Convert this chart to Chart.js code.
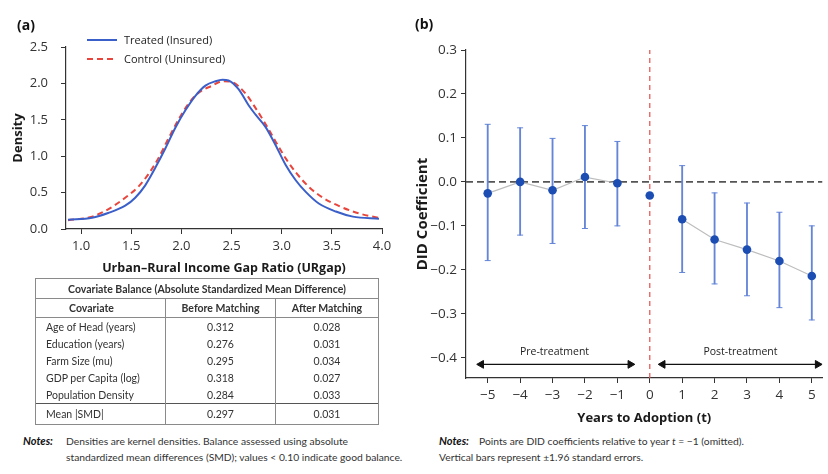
<!DOCTYPE html>
<html>
<head>
<meta charset="utf-8">
<script src="https://cdn.jsdelivr.net/npm/chart.js@4.4.1/dist/chart.umd.min.js"></script>
<style>
html,body{margin:0;padding:0;background:#fff;}
#wrap{position:relative;width:828px;height:474px;overflow:hidden;background:#fff;font-family:'Open Sans',sans-serif;color:#222;}
.abs{position:absolute;white-space:nowrap;}
.plabel{font-weight:bold;font-size:14px;line-height:16px;color:#111;}
.legtxt{font-size:11px;line-height:16px;color:#222;}
#cA{position:absolute;left:0;top:0;}
#cB{position:absolute;left:414px;top:0;}
#tbl{position:absolute;left:35px;top:278px;width:343px;border-collapse:collapse;font-family:Lato,sans-serif;font-size:10.5px;color:#333;table-layout:fixed;}
#tbl td{padding:0;border:1px solid #8a8a8a;text-align:center;vertical-align:middle;line-height:12px;}
#tbl tr.title td{height:19px;font-weight:bold;color:#333;}
#tbl tr.head td{height:18px;font-weight:bold;color:#333;}
#tbl tr.row td{height:17px;border-top:none;border-bottom:none;}
#tbl tr.row td.cov{text-align:left;padding-left:10px;}
#tbl tr.mean td{height:20px;border-top:1.5px solid #555;}
#tbl tr.mean td.cov{text-align:left;padding-left:10px;}
.note{font-family:Lato,sans-serif;font-size:10.3px;line-height:14px;color:#333;}
.note b{font-style:italic;font-size:11px;color:#111;}
</style>
</head>
<body>
<div id="wrap">
  <canvas id="cA" width="400" height="282"></canvas>
  <canvas id="cB" width="414" height="432"></canvas>

  <div class="abs plabel" style="left:17px;top:17px;">(a)</div>
  <div class="abs plabel" style="left:415px;top:16px;">(b)</div>

  <svg class="abs" style="left:86px;top:34px;" width="32" height="32">
    <line x1="1" y1="6" x2="31" y2="6" stroke="#3b5fc9" stroke-width="2"/>
    <line x1="1" y1="25" x2="31" y2="25" stroke="#e8453c" stroke-width="2" stroke-dasharray="6 4"/>
  </svg>
  <div class="abs legtxt" id="legT" style="left:124px;top:32px;"></div>
  <div class="abs legtxt" id="legC" style="left:124px;top:51px;"></div>

  <table id="tbl"></table>

  <div class="abs note" style="left:23px;top:434px;"><b>Notes:</b></div>
  <div class="abs note" style="left:66px;top:434px;">Densities are kernel densities. Balance assessed using absolute</div>
  <div class="abs note" style="left:66px;top:450px;">standardized mean differences (SMD); values &lt; 0.10 indicate good balance.</div>

  <div class="abs note" style="left:439px;top:434px;"><b>Notes:</b></div>
  <div class="abs note" style="left:479px;top:434px;">Points are DID coefficients relative to year <i>t</i> = −1 (omitted).</div>
  <div class="abs note" style="left:439px;top:450px;">Vertical bars represent ±1.96 standard errors.</div>
</div>

<script>
// ================= DATA =================
// Panel (a): kernel densities of URgap
const seriesNames = ['Treated (Insured)', 'Control (Uninsured)'];
const treatedX = [0.87,1.11,1.27,1.44,1.54,1.64,1.74,1.84,1.94,2.04,2.14,2.24,2.34,2.41,2.47,2.57,2.67,2.74,2.84,2.94,3.04,3.14,3.24,3.37,3.54,3.71,3.97];
const treatedDensity = [0.127,0.155,0.22,0.32,0.43,0.60,0.84,1.105,1.39,1.63,1.83,1.97,2.03,2.05,2.04,1.92,1.70,1.57,1.40,1.15,0.88,0.67,0.51,0.35,0.24,0.17,0.14];
const controlX = [0.87,1.11,1.27,1.44,1.57,1.67,1.77,1.87,1.97,2.07,2.17,2.31,2.41,2.50,2.64,2.74,2.84,2.94,3.04,3.14,3.27,3.41,3.58,3.78,3.98];
const controlDensity = [0.12,0.17,0.27,0.43,0.58,0.75,0.97,1.24,1.50,1.72,1.87,1.97,2.03,2.02,1.86,1.66,1.44,1.20,0.97,0.78,0.58,0.43,0.31,0.21,0.15];
const densityXTicks = [1.0,1.5,2.0,2.5,3.0,3.5,4.0];
const densityYTicks = [0.0,0.5,1.0,1.5,2.0,2.5];
const densityXRange = [0.85, 4.0];
const densityYRange = [0.0, 2.5];

// Covariate balance table
const tableTitle = 'Covariate Balance (Absolute Standardized Mean Difference)';
const tableHeaders = ['Covariate','Before Matching','After Matching'];
const covariates = ['Age of Head (years)','Education (years)','Farm Size (mu)','GDP per Capita (log)','Population Density'];
const smdBefore = ['0.312','0.276','0.295','0.318','0.284'];
const smdAfter = ['0.028','0.031','0.034','0.027','0.033'];
const meanRow = ['Mean |SMD|','0.297','0.031'];

// Panel (b): event study
const eventYears = [-5,-4,-3,-2,-1,0,1,2,3,4,5];
const didCoef = [-0.026,0.000,-0.019,0.011,-0.003,-0.031,-0.085,-0.131,-0.154,-0.180,-0.214];
const ciLower = [-0.179,-0.121,-0.140,-0.106,-0.100,null,-0.206,-0.232,-0.259,-0.286,-0.314];
const ciUpper = [0.131,0.123,0.099,0.128,0.092,null,0.037,-0.025,-0.048,-0.069,-0.100];
const adoptionYear = 0;
const eventXTicks = [-5,-4,-3,-2,-1,0,1,2,3,4,5];
const eventYTicks = [0.3,0.2,0.1,0.0,-0.1,-0.2,-0.3,-0.4];
const eventXRange = [-5.67, 5.33];
const eventYRange = [-0.446, 0.3];
const periodLabels = ['Pre-treatment','Post-treatment'];
const periodArrowX = [[-5.2,-0.6],[0.4,5.18]];
const periodArrowY = -0.415;
const periodLabelX = [-2.94, 2.8];
const periodLabelY = -0.387;

// ================= HELPERS =================
const FONT = "'Open Sans', sans-serif";
const fmtMinus = v => (v < 0 ? '\u2212' : '') + Math.abs(v);
const fmt1 = v => { const r = Math.round(v*10)/10; return (r < 0 ? '\u2212' : '') + Math.abs(r).toFixed(1); };
const fixTicks = arr => s => { s.ticks = arr.map(v => ({value: v})); };

document.getElementById('legT').textContent = seriesNames[0];
document.getElementById('legC').textContent = seriesNames[1];

// Table
(function(){
  const t = document.getElementById('tbl');
  let h = '<colgroup><col style="width:130px"><col style="width:110px"><col style="width:103px"></colgroup>';
  h += '<tr class="title"><td colspan="3">' + tableTitle + '</td></tr>';
  h += '<tr class="head"><td style="padding-right:18px">' + tableHeaders[0] + '</td><td>' + tableHeaders[1] + '</td><td>' + tableHeaders[2] + '</td></tr>';
  covariates.forEach((c,i) => {
    h += '<tr class="row"><td class="cov">' + c + '</td><td>' + smdBefore[i] + '</td><td>' + smdAfter[i] + '</td></tr>';
  });
  h += '<tr class="mean"><td class="cov">' + meanRow[0] + '</td><td>' + meanRow[1] + '</td><td>' + meanRow[2] + '</td></tr>';
  t.innerHTML = h;
})();

const axisCommon = (tl) => ({
  border: {display: true, color: '#333', width: 1.2},
  grid: {display: true, drawOnChartArea: false, drawTicks: true, tickLength: tl, color: '#333', lineWidth: 1, offset: false}
});

// ================= CHART A =================
new Chart(document.getElementById('cA'), {
  type: 'line',
  data: {
    datasets: [
      {label: seriesNames[0], data: treatedX.map((x,i) => ({x, y: treatedDensity[i]})),
       borderColor: '#3b5fc9', borderWidth: 2, pointRadius: 0, fill: false, cubicInterpolationMode: 'monotone'},
      {label: seriesNames[1], data: controlX.map((x,i) => ({x, y: controlDensity[i]})),
       borderColor: '#e8453c', borderWidth: 2, borderDash: [6,4], pointRadius: 0, fill: false, cubicInterpolationMode: 'monotone'}
    ]
  },
  options: {
    responsive: false, animation: false, events: [],
    layout: {padding: {top: 47, right: 18, bottom: 0, left: 0}},
    plugins: {legend: {display: false}, tooltip: {enabled: false}},
    scales: {
      x: Object.assign(axisCommon(5), {
        type: 'linear', min: densityXRange[0], max: densityXRange[1], offset: false,
        afterBuildTicks: fixTicks(densityXTicks),
        afterFit: s => { s.height = 53; },
        ticks: {font: {family: FONT, size: 13}, color: '#333', padding: 4, maxRotation: 0, autoSkip: false, callback: v => fmt1(v)},
        title: {display: true, text: 'Urban\u2013Rural Income Gap Ratio (URgap)', font: {family: FONT, size: 12.5, weight: 'bold'}, color: '#1a1a1a', padding: {top: 0, bottom: 6.5}}
      }),
      y: Object.assign(axisCommon(5), {
        type: 'linear', min: densityYRange[0], max: densityYRange[1],
        afterBuildTicks: fixTicks(densityYTicks),
        afterFit: s => { s.width = 66; },
        ticks: {font: {family: FONT, size: 13}, color: '#333', padding: 13, autoSkip: false, callback: v => fmt1(v)},
        title: {display: true, text: 'Density', font: {family: FONT, size: 13, weight: 'bold'}, color: '#1a1a1a', padding: {top: 10, bottom: 0}}
      })
    }
  }
});

// ================= CHART B =================
const periodTextPlugin = {
  id: 'periodText',
  afterDatasetsDraw(chart) {
    const {ctx, scales: {x, y}} = chart;
    ctx.save();
    ctx.font = "10.5px " + FONT;
    ctx.fillStyle = '#222';
    ctx.textAlign = 'center';
    ctx.textBaseline = 'middle';
    periodLabels.forEach((t, i) => ctx.fillText(t, x.getPixelForValue(periodLabelX[i]), y.getPixelForValue(periodLabelY)));
    ctx.restore();
  }
};

const ciIdx = eventYears.map((t,i) => i).filter(i => ciLower[i] !== null);
const arrowDatasets = periodArrowX.map(([a,b]) => ({
  type: 'line', data: [{x: a, y: periodArrowY}, {x: b, y: periodArrowY}],
  borderColor: '#111', borderWidth: 1.2, pointStyle: 'triangle', pointRadius: 4.5,
  pointRotation: [-90, 90], pointBackgroundColor: '#111', pointBorderColor: '#111', pointBorderWidth: 1, order: 5
}));

new Chart(document.getElementById('cB'), {
  type: 'line',
  data: {
    datasets: [
      // zero reference line
      {type: 'line', data: [{x: eventXRange[0], y: 0}, {x: eventXRange[1], y: 0}],
       borderColor: '#555', borderWidth: 1.6, borderDash: [7,4], pointRadius: 0, order: 6},
      // adoption line
      {type: 'line', data: [{x: adoptionYear, y: eventYRange[0]}, {x: adoptionYear, y: eventYRange[1]}],
       borderColor: '#e85a5a', borderWidth: 1.3, borderDash: [5,4], pointRadius: 0, order: 6},
      // connecting line (skipping adoption year)
      {type: 'line', data: eventYears.map((t,i) => ({x: t, y: t === adoptionYear ? null : didCoef[i]})),
       borderColor: '#bdbdbd', borderWidth: 1.2, pointRadius: 0, spanGaps: false, order: 4},
      // error bars
      {type: 'bar', data: ciIdx.map(i => ({x: eventYears[i], y: [ciLower[i], ciUpper[i]]})),
       backgroundColor: '#6586d8', borderWidth: 0, barThickness: 1.2, order: 3, grouped: false},
      // caps
      {type: 'scatter', data: ciIdx.flatMap(i => [{x: eventYears[i], y: ciLower[i]}, {x: eventYears[i], y: ciUpper[i]}]),
       pointStyle: 'line', pointRadius: 3, borderColor: '#6586d8', borderWidth: 1, showLine: false, order: 2},
      // coefficients
      {type: 'scatter', data: eventYears.map((t,i) => ({x: t, y: didCoef[i]})),
       pointRadius: 4.3, pointBackgroundColor: '#1b4db3', pointBorderColor: '#1b4db3', borderWidth: 0, showLine: false, order: 1},
      ...arrowDatasets
    ]
  },
  options: {
    responsive: false, animation: false, events: [],
    layout: {padding: {top: 50, right: 1, bottom: 0, left: 0}},
    plugins: {legend: {display: false}, tooltip: {enabled: false}},
    scales: {
      x: Object.assign(axisCommon(5), {
        type: 'linear', min: eventXRange[0], max: eventXRange[1], offset: false,
        afterBuildTicks: fixTicks(eventXTicks),
        afterFit: s => { s.height = 54; },
        ticks: {font: {family: FONT, size: 13.5}, color: '#333', padding: 4, maxRotation: 0, autoSkip: false, callback: v => fmtMinus(v)},
        title: {display: true, text: 'Years to Adoption (t)', font: {family: FONT, size: 13, weight: 'bold'}, color: '#1a1a1a', padding: {top: 0, bottom: 6}}
      }),
      y: Object.assign(axisCommon(5), {
        type: 'linear', min: eventYRange[0], max: eventYRange[1],
        afterBuildTicks: fixTicks(eventYTicks),
        afterFit: s => { s.width = 52; },
        ticks: {font: {family: FONT, size: 13.5}, color: '#333', padding: 4, autoSkip: false, callback: v => fmt1(v)},
        title: {display: true, text: 'DID Coefficient', font: {family: FONT, size: 15, weight: 'bold'}, color: '#1a1a1a', padding: {top: 0, bottom: 0}}
      })
    }
  },
  plugins: [periodTextPlugin]
});
</script>
</body>
</html>
